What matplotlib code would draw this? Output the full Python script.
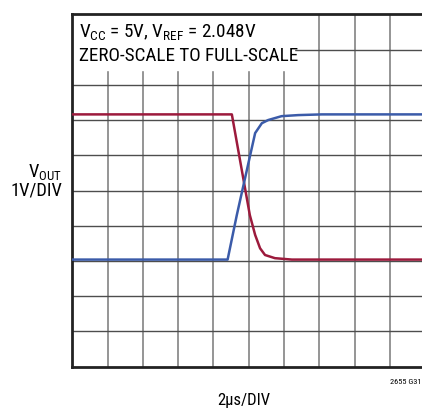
import numpy as np
import matplotlib.pyplot as plt

fams = ['Roboto Condensed', 'Liberation Sans Narrow', 'Roboto', 'DejaVu Sans']
plt.rcParams['font.family'] = fams
plt.rcParams['mathtext.fontset'] = 'custom'
plt.rcParams['mathtext.rm'] = 'Roboto Condensed'
plt.rcParams['mathtext.it'] = 'Roboto Condensed'

# scope capture, time in us, output in V
t_fall = [0.0, 9.04, 9.50, 10.06, 10.36, 10.64, 10.92, 11.48, 12.44, 20.0]
v_fall = [4.12, 4.12, 2.83, 1.26, 0.70, 0.32, 0.13, 0.04, 0.0, 0.0]

t_rise = [0.0, 8.80, 9.32, 10.02, 10.36, 10.74, 11.10, 11.86, 12.80, 14.14, 20.0]
v_rise = [0.0, 0.0, 1.26, 2.83, 3.59, 3.87, 3.96, 4.07, 4.10, 4.12, 4.12]

red = '#9c1a3c'
blue = '#3b5ba9'

fig = plt.figure(figsize=(4.22, 4.09), dpi=100)
ax = fig.add_axes([0.1713, 0.1034, 0.8365, 0.8616])

ax.set_xlim(0, 20)
ax.set_ylim(-3.04, 6.96)
ax.set_xticks(np.arange(0, 21, 2))
ax.set_yticks(np.arange(-3.04, 6.97, 1.0))
ax.tick_params(length=0, labelbottom=False, labelleft=False)
for x in np.arange(2, 20, 2):
    ax.axvline(x, color='#8c8c8c', lw=1.3, zorder=1)
for y in np.arange(-2.04, 6.9, 1.0):
    ax.axhline(y, color='#4d4d4d', lw=1.0, zorder=1)

for s in ['left', 'bottom', 'top']:
    ax.spines[s].set_linewidth(2.0)
    ax.spines[s].set_color('#222222')
ax.spines['right'].set_visible(False)

ax.plot(t_fall, v_fall, color=red, lw=1.8, zorder=3)
ax.plot(t_rise, v_rise, color=blue, lw=1.8, zorder=3)

# white label box in the upper left corner
ax.axvspan(0, 12.55, ymin=0.842, ymax=1.0, color='white', zorder=2)
ax.text(0.38, 6.31, r'V$_{\mathrm{CC}}$ = 5V, V$_{\mathrm{REF}}$ = 2.048V',
        fontsize=13.8, va='baseline', zorder=4)
ax.text(0.38, 5.635, 'ZERO-SCALE TO FULL-SCALE', fontsize=13.8,
        va='baseline', zorder=4)

fig.text(62 / 422, 1 - 181 / 409, r'V$_{\mathrm{OUT}}$' + '\n1V/DIV', fontsize=13.3,
         ha='right', va='center', linespacing=0.95)
fig.text(244 / 422, 1 - 400 / 409, '2\u00b5s/DIV', fontsize=12,
         ha='center', va='center')
fig.text(421 / 422, 1 - 382 / 409, '2655 G31', fontsize=6,
         ha='right', va='center')

fig.savefig('out.png', dpi=100)
